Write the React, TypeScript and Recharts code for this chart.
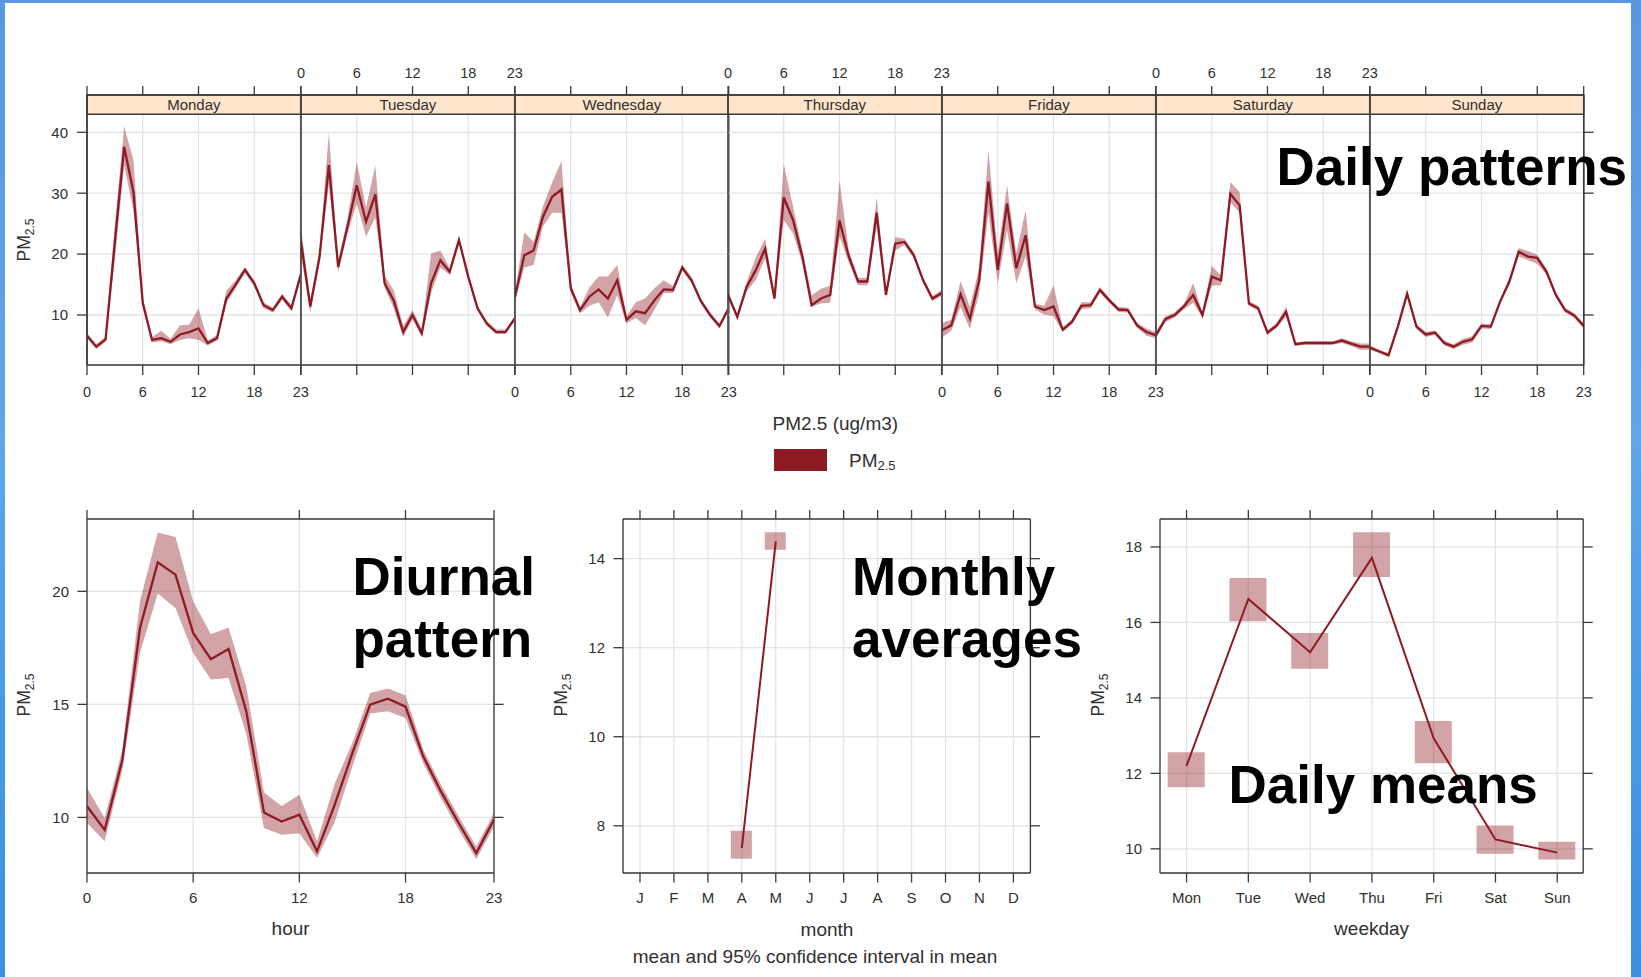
import React from 'react';
import {
  ComposedChart,
  Line,
  Area,
  Bar,
  XAxis,
  YAxis,
  CartesianGrid,
  ReferenceArea,
  ReferenceLine,
} from 'recharts';

const FONT = '"Liberation Sans", Arial, Helvetica, sans-serif';
const SERIES = '#8E1B24';
const BAND_OPACITY = 0.4;
const AXIS = '#3a3a3a';
const GRID = '#e3e3e3';
const TEXT = '#303030';
const STRIP = '#FFE5CC';

// ---- categories & ticks ----
const hours = [0, 1, 2, 3, 4, 5, 6, 7, 8, 9, 10, 11, 12, 13, 14, 15, 16, 17, 18, 19, 20, 21, 22, 23];
const hourTicks = [0, 6, 12, 18, 23];
const dayNames = ['Monday', 'Tuesday', 'Wednesday', 'Thursday', 'Friday', 'Saturday', 'Sunday'];
const dayAbbrev = ['Mon', 'Tue', 'Wed', 'Thu', 'Fri', 'Sat', 'Sun'];
const weekdayIndex = [1, 2, 3, 4, 5, 6, 7];
const monthLetters = ['J', 'F', 'M', 'A', 'M', 'J', 'J', 'A', 'S', 'O', 'N', 'D'];
const monthTicks = [1, 2, 3, 4, 5, 6, 7, 8, 9, 10, 11, 12];

const dailyTicks = [10, 20, 30, 40];
const diurnalTicks = [10, 15, 20];
const monthlyTicks = [8, 10, 12, 14];
const weekdayTicks = [10, 12, 14, 16, 18];

// ---- hourly means by day of week, with 95% CI ----
const mondayMean = [6.6, 4.8, 6.0, 22.0, 37.6, 30.2, 12.0, 5.9, 6.2, 5.6, 6.8, 7.2, 7.8, 5.4, 6.2, 12.7, 15.0, 17.4, 15.2, 11.6, 10.8, 13.0, 11.1, 16.6];
const mondayLow = [6.2, 4.4, 5.6, 19.0, 34.6, 27.1, 11.3, 5.5, 5.7, 5.2, 5.9, 6.2, 5.9, 5.0, 5.8, 12.0, 14.4, 16.9, 14.7, 11.1, 10.4, 12.5, 10.6, 15.8];
const mondayHigh = [7.0, 5.2, 6.4, 25.0, 41.0, 35.4, 12.8, 6.4, 7.4, 6.1, 8.3, 8.4, 11.1, 5.8, 6.7, 14.0, 15.7, 17.9, 15.7, 12.1, 11.2, 13.5, 11.6, 17.4];

const tuesdayMean = [22.0, 11.4, 19.6, 34.6, 17.9, 24.5, 31.3, 25.3, 29.8, 15.2, 12.3, 7.2, 10.0, 7.0, 15.2, 19.0, 17.1, 22.3, 16.3, 11.1, 8.6, 7.2, 7.2, 9.4];
const tuesdayLow = [19.8, 10.5, 18.6, 31.5, 17.0, 23.3, 28.3, 22.9, 26.0, 14.5, 11.0, 6.4, 9.3, 6.4, 13.6, 17.8, 16.6, 21.7, 15.8, 10.7, 8.2, 6.9, 6.9, 9.0];
const tuesdayHigh = [24.5, 12.3, 20.6, 40.0, 18.8, 25.8, 35.1, 27.7, 34.5, 16.5, 14.0, 8.2, 10.8, 7.6, 20.1, 20.6, 17.7, 22.9, 16.8, 11.5, 9.0, 7.6, 7.6, 9.8];

const wednesdayMean = [13.0, 19.8, 20.6, 26.1, 29.4, 30.6, 14.4, 10.8, 13.0, 14.2, 12.7, 15.7, 9.2, 10.6, 10.3, 12.4, 14.2, 14.1, 17.8, 15.7, 12.3, 10.0, 8.2, 11.1];
const wednesdayLow = [12.3, 17.8, 18.2, 24.5, 26.8, 26.8, 13.7, 10.3, 11.5, 12.1, 9.6, 13.3, 8.6, 9.5, 8.3, 10.8, 13.6, 13.6, 17.3, 15.2, 11.9, 9.6, 7.8, 10.6];
const wednesdayHigh = [13.8, 23.6, 22.0, 27.8, 31.8, 35.3, 15.0, 11.3, 14.5, 16.3, 16.3, 18.2, 9.8, 12.1, 12.7, 14.4, 15.7, 14.7, 18.3, 16.2, 12.7, 10.4, 8.6, 11.6];

const thursdayMean = [13.3, 9.7, 14.6, 17.4, 20.9, 12.7, 29.3, 25.6, 19.6, 11.6, 12.7, 13.3, 25.5, 19.6, 15.5, 15.5, 26.8, 13.3, 21.7, 22.0, 19.8, 15.7, 12.7, 13.6];
const thursdayLow = [12.8, 9.3, 13.8, 15.8, 19.3, 12.2, 25.6, 23.4, 18.5, 11.4, 11.9, 12.0, 22.9, 18.6, 14.9, 14.9, 24.4, 12.8, 20.6, 21.5, 19.3, 15.2, 12.3, 13.1];
const thursdayHigh = [13.8, 10.1, 15.4, 19.5, 22.5, 13.2, 34.8, 27.8, 20.8, 13.2, 14.3, 14.8, 32.1, 20.6, 16.1, 16.1, 29.3, 13.8, 22.8, 22.5, 20.3, 16.2, 13.1, 14.1];

const fridayMean = [7.5, 8.3, 13.4, 9.4, 15.7, 31.9, 17.4, 28.3, 17.7, 23.1, 11.4, 10.8, 11.4, 7.6, 8.9, 11.5, 11.6, 14.1, 12.4, 10.9, 10.8, 8.3, 7.2, 6.7];
const fridayLow = [6.3, 7.4, 11.3, 7.7, 13.5, 26.7, 15.2, 23.9, 15.2, 19.6, 10.9, 10.1, 9.8, 7.2, 8.5, 11.0, 11.1, 13.6, 12.0, 10.5, 10.4, 7.9, 6.6, 6.2];
const fridayHigh = [8.7, 9.2, 15.6, 11.3, 17.8, 37.1, 20.0, 31.3, 20.1, 27.2, 11.9, 11.5, 14.9, 8.0, 9.3, 12.1, 12.1, 14.6, 12.8, 11.3, 11.2, 8.7, 7.8, 7.2];

const saturdayMean = [6.7, 9.3, 10.0, 11.4, 13.3, 10.0, 16.3, 15.7, 29.9, 28.0, 11.9, 11.1, 7.1, 8.3, 10.5, 5.2, 5.4, 5.4, 5.4, 5.4, 5.8, 5.3, 4.8, 4.8];
const saturdayLow = [6.2, 8.8, 9.6, 10.9, 12.0, 9.6, 14.8, 14.9, 28.5, 26.8, 11.5, 10.7, 6.7, 7.9, 9.7, 4.9, 5.1, 5.1, 5.1, 5.1, 5.4, 4.9, 4.3, 4.3];
const saturdayHigh = [7.2, 9.8, 10.4, 11.9, 15.2, 10.4, 18.1, 16.5, 31.8, 30.2, 12.3, 11.5, 7.5, 8.7, 11.4, 5.5, 5.7, 5.7, 5.7, 5.7, 6.2, 5.7, 5.3, 5.3];

const sundayMean = [4.65, 4.0, 3.4, 8.1, 13.5, 8.1, 6.8, 7.1, 5.4, 4.8, 5.6, 6.0, 8.2, 8.1, 12.2, 15.5, 20.4, 19.6, 19.4, 17.1, 13.3, 10.8, 9.9, 8.2];
const sundayLow = [4.3, 3.7, 3.1, 7.7, 13.0, 7.7, 6.4, 6.7, 5.0, 4.4, 5.1, 5.5, 7.8, 7.7, 11.8, 15.0, 19.6, 19.0, 18.4, 16.6, 12.9, 10.4, 9.5, 7.8];
const sundayHigh = [5.0, 4.3, 3.7, 8.5, 14.0, 8.5, 7.2, 7.5, 5.8, 5.2, 6.1, 6.5, 8.6, 8.5, 12.6, 16.0, 21.0, 20.5, 19.9, 17.6, 13.7, 11.2, 10.3, 8.6];

// ---- diurnal (all days) ----
const diurnalMean = [10.49, 9.45, 12.55, 18.4, 21.28, 20.74, 18.16, 17.0, 17.45, 14.69, 10.22, 9.82, 10.12, 8.5, 10.56, 12.85, 14.99, 15.25, 14.9, 12.7, 11.15, 9.75, 8.42, 9.9];
const diurnalLow = [9.75, 8.94, 12.1, 17.3, 19.9, 19.26, 17.27, 16.1, 16.17, 13.7, 9.53, 9.23, 9.3, 8.2, 9.8, 12.26, 14.6, 14.7, 14.4, 12.4, 10.85, 9.45, 8.15, 9.6];
const diurnalHigh = [11.3, 9.97, 13.0, 19.6, 22.6, 22.4, 19.56, 18.1, 18.4, 15.8, 11.1, 10.5, 11.0, 8.94, 11.5, 13.3, 15.5, 15.7, 15.4, 13.0, 11.45, 10.05, 8.7, 10.2];

// ---- monthly means ----
const monthIndex = [4, 5];
const monthMean = [7.5, 14.39];
const monthLow = [7.26, 14.2];
const monthHigh = [7.89, 14.59];

// ---- weekday means ----
const weekdayMean = [12.2, 16.62, 15.21, 17.71, 12.93, 10.25, 9.9];
const weekdayLow = [11.63, 16.03, 14.77, 17.2, 12.27, 9.87, 9.72];
const weekdayHigh = [12.56, 17.18, 15.72, 18.39, 13.39, 10.62, 10.19];

const dayMeans = [mondayMean, tuesdayMean, wednesdayMean, thursdayMean, fridayMean, saturdayMean, sundayMean];
const dayLows = [mondayLow, tuesdayLow, wednesdayLow, thursdayLow, fridayLow, saturdayLow, sundayLow];
const dayHighs = [mondayHigh, tuesdayHigh, wednesdayHigh, thursdayHigh, fridayHigh, saturdayHigh, sundayHigh];

// ---- layout ----
const PANEL_X0 = 87.3;
const PANEL_W = 213.714;
const PANEL_Y0 = 95;
const PANEL_H = 270;
const DAILY_DOMAIN: [number, number] = [1.79, 46.12];
const STRIP_LO = 42.96;

const BOT_Y0 = 519.3;
const BOT_H = 354;
const BOT_AXIS_H = 45;

const lineStyle = { stroke: AXIS, strokeWidth: 1.3 };
const tickStyle = (size: number) => ({ fill: TEXT, fontSize: size, fontFamily: FONT });
const hiddenTick = () => <g />;

function DayPanel({ idx }: { idx: number }) {
  const first = idx === 0;
  const last = idx === 6;
  const labelsTop = idx % 2 === 1;
  const rows = hours.map((h, i) => ({
    hour: h,
    mean: dayMeans[idx][i],
    band: [dayLows[idx][i], dayHighs[idx][i]],
  }));
  const plotLeft = PANEL_X0 + idx * PANEL_W;
  return (
    <div style={{ position: 'absolute', left: plotLeft - 60, top: PANEL_Y0 - 40 }}>
      <ComposedChart
        width={PANEL_W + 80}
        height={PANEL_H + 80}
        data={rows}
        margin={{ top: 0, bottom: 0, left: first ? 0 : 60, right: last ? 0 : 20 }}
      >
        <CartesianGrid xAxisId="b" yAxisId="l" stroke={GRID} strokeWidth={1.3} />
        <XAxis
          xAxisId="b"
          dataKey="hour"
          type="number"
          domain={[0, 23]}
          ticks={hourTicks}
          interval={0}
          allowDataOverflow
          height={40}
          tickSize={10}
          tickMargin={11.3}
          axisLine={lineStyle}
          tickLine={lineStyle}
          tick={labelsTop ? hiddenTick : tickStyle(14.5)}
        />
        <XAxis
          xAxisId="t"
          dataKey="hour"
          type="number"
          orientation="top"
          domain={[0, 23]}
          ticks={hourTicks}
          interval={0}
          allowDataOverflow
          height={40}
          tickSize={9}
          tickMargin={8.1}
          axisLine={lineStyle}
          tickLine={lineStyle}
          tick={labelsTop ? tickStyle(14.5) : hiddenTick}
        />
        <YAxis
          yAxisId="l"
          domain={DAILY_DOMAIN}
          ticks={dailyTicks}
          interval={0}
          allowDataOverflow
          hide={!first}
          width={60}
          tickSize={10}
          tickMargin={9}
          axisLine={lineStyle}
          tickLine={lineStyle}
          tick={tickStyle(15)}
        />
        {last && (
          <YAxis
            yAxisId="r"
            orientation="right"
            domain={DAILY_DOMAIN}
            ticks={dailyTicks}
            interval={0}
            allowDataOverflow
            width={20}
            tickSize={10}
            axisLine={lineStyle}
            tickLine={lineStyle}
            tick={hiddenTick}
          />
        )}
        <Area
          xAxisId="b"
          yAxisId="l"
          type="linear"
          dataKey="band"
          stroke="none"
          fill={SERIES}
          fillOpacity={BAND_OPACITY}
          isAnimationActive={false}
          activeDot={false}
        />
        <Line
          xAxisId="b"
          yAxisId="l"
          type="linear"
          dataKey="mean"
          stroke={SERIES}
          strokeWidth={2.3}
          dot={false}
          activeDot={false}
          isAnimationActive={false}
        />
        <ReferenceArea
          xAxisId="b"
          yAxisId="l"
          x1={0}
          x2={23}
          y1={STRIP_LO}
          y2={DAILY_DOMAIN[1]}
          fill={STRIP}
          fillOpacity={1}
          stroke={AXIS}
          strokeWidth={1.3}
          label={{ value: dayNames[idx], position: 'center', fill: TEXT, fontSize: 15, fontFamily: FONT }}
        />
        <ReferenceLine xAxisId="b" yAxisId="l" x={0} stroke={AXIS} strokeWidth={1.5} />
        <ReferenceLine xAxisId="b" yAxisId="l" x={23} stroke={AXIS} strokeWidth={1.5} />
      </ComposedChart>
    </div>
  );
}

type FrameProps = {
  left: number;
  width: number;
  data: any[];
  xKey: string;
  xDomain: [number, number];
  xTicks: number[];
  xFormat?: (v: number) => string;
  yDomain: [number, number];
  yTicks: number[];
  children: React.ReactNode;
};

function Frame({ left, width, data, xKey, xDomain, xTicks, xFormat, yDomain, yTicks, children }: FrameProps) {
  return (
    <div style={{ position: 'absolute', left: left - 60, top: BOT_Y0 - 30 }}>
      <ComposedChart
        width={width + 80}
        height={BOT_H + 30 + BOT_AXIS_H}
        data={data}
        margin={{ top: 0, right: 0, bottom: 0, left: 0 }}
      >
        <CartesianGrid xAxisId="b" yAxisId="l" stroke={GRID} strokeWidth={1.3} />
        <XAxis
          xAxisId="b"
          dataKey={xKey}
          type="number"
          domain={xDomain}
          ticks={xTicks}
          interval={0}
          allowDataOverflow
          height={BOT_AXIS_H}
          tickSize={9.5}
          tickMargin={9.8}
          tickFormatter={xFormat}
          axisLine={lineStyle}
          tickLine={lineStyle}
          tick={tickStyle(15)}
        />
        <XAxis
          xAxisId="t"
          dataKey={xKey}
          type="number"
          orientation="top"
          domain={xDomain}
          ticks={xTicks}
          interval={0}
          allowDataOverflow
          height={30}
          tickSize={9}
          axisLine={lineStyle}
          tickLine={lineStyle}
          tick={hiddenTick}
        />
        <YAxis
          yAxisId="l"
          domain={yDomain}
          ticks={yTicks}
          interval={0}
          allowDataOverflow
          width={60}
          tickSize={9.5}
          tickMargin={8.5}
          axisLine={lineStyle}
          tickLine={lineStyle}
          tick={tickStyle(15)}
        />
        <YAxis
          yAxisId="r"
          orientation="right"
          domain={yDomain}
          ticks={yTicks}
          interval={0}
          allowDataOverflow
          width={20}
          tickSize={9.5}
          axisLine={lineStyle}
          tickLine={lineStyle}
          tick={hiddenTick}
        />
        {children}
      </ComposedChart>
    </div>
  );
}

function YTitle({ x, y }: { x: number; y: number }) {
  return (
    <text
      x={x}
      y={y}
      transform={`rotate(-90 ${x} ${y})`}
      textAnchor="middle"
      fontSize={17.5}
      fill={TEXT}
      fontFamily={FONT}
    >
      PM
      <tspan fontSize={12} dy={4}>2.5</tspan>
    </text>
  );
}

function Title({ x, y, lines }: { x: number; y: number; lines: string[] }) {
  return (
    <text x={x} y={y} fontSize={53} fontWeight="bold" fill="#000" fontFamily={FONT}>
      {lines.map((s, i) => (
        <tspan key={s} x={x} dy={i === 0 ? 0 : 62}>
          {s}
        </tspan>
      ))}
    </text>
  );
}

export default function App() {
  const diurnalRows = hours.map((h, i) => ({
    hour: h,
    mean: diurnalMean[i],
    band: [diurnalLow[i], diurnalHigh[i]],
  }));
  const monthRows = monthIndex.map((m, i) => ({ month: m, mean: monthMean[i], ci: [monthLow[i], monthHigh[i]] }));
  const weekdayRows = weekdayIndex.map((d, i) => ({ day: d, mean: weekdayMean[i], ci: [weekdayLow[i], weekdayHigh[i]] }));

  return (
    <div
      style={{
        position: 'absolute',
        left: 0,
        top: 0,
        width: 1641,
        height: 977,
        overflow: 'hidden',
        fontFamily: FONT,
        background: 'linear-gradient(180deg, #5b96e2 0%, #5fa6ea 45%, #4a9be6 70%, #3e8ee2 100%)',
      }}
    >
      <div style={{ position: 'absolute', left: 5, top: 3, width: 1626, height: 974, background: '#ffffff' }} />

      {dayNames.map((_, i) => (
        <DayPanel key={i} idx={i} />
      ))}

      <Frame
        left={87.1}
        width={407}
        data={diurnalRows}
        xKey="hour"
        xDomain={[0, 23]}
        xTicks={hourTicks}
        yDomain={[7.54, 23.2]}
        yTicks={diurnalTicks}
      >
        <Area
          xAxisId="b"
          yAxisId="l"
          type="linear"
          dataKey="band"
          stroke="none"
          fill={SERIES}
          fillOpacity={BAND_OPACITY}
          isAnimationActive={false}
          activeDot={false}
        />
        <Line
          xAxisId="b"
          yAxisId="l"
          type="linear"
          dataKey="mean"
          stroke={SERIES}
          strokeWidth={2.3}
          dot={false}
          activeDot={false}
          isAnimationActive={false}
        />
      </Frame>

      <Frame
        left={623.3}
        width={407.4}
        data={monthRows}
        xKey="month"
        xDomain={[0.5, 12.5]}
        xTicks={monthTicks}
        xFormat={(v: number) => monthLetters[v - 1]}
        yDomain={[6.94, 14.89]}
        yTicks={monthlyTicks}
      >
        <Bar
          xAxisId="b"
          yAxisId="l"
          dataKey="ci"
          barSize={21}
          fill={SERIES}
          fillOpacity={BAND_OPACITY}
          isAnimationActive={false}
        />
        <Line
          xAxisId="b"
          yAxisId="l"
          type="linear"
          dataKey="mean"
          stroke={SERIES}
          strokeWidth={2}
          dot={false}
          activeDot={false}
          isAnimationActive={false}
        />
      </Frame>

      <Frame
        left={1160}
        width={423.2}
        data={weekdayRows}
        xKey="day"
        xDomain={[0.57, 7.42]}
        xTicks={weekdayIndex}
        xFormat={(v: number) => dayAbbrev[v - 1]}
        yDomain={[9.36, 18.74]}
        yTicks={weekdayTicks}
      >
        <Bar
          xAxisId="b"
          yAxisId="l"
          dataKey="ci"
          barSize={37}
          fill={SERIES}
          fillOpacity={BAND_OPACITY}
          isAnimationActive={false}
        />
        <Line
          xAxisId="b"
          yAxisId="l"
          type="linear"
          dataKey="mean"
          stroke={SERIES}
          strokeWidth={2}
          dot={false}
          activeDot={false}
          isAnimationActive={false}
        />
      </Frame>

      <svg
        width={1641}
        height={977}
        style={{ position: 'absolute', left: 0, top: 0, pointerEvents: 'none' }}
      >
        <YTitle x={30} y={240} />
        <YTitle x={30} y={695} />
        <YTitle x={567} y={695} />
        <YTitle x={1104} y={695} />

        <text x={835.3} y={429.5} textAnchor="middle" fontSize={19} fill={TEXT} fontFamily={FONT}>
          PM2.5 (ug/m3)
        </text>
        <rect x={774} y={449} width={53} height={22} fill={SERIES} />
        <text x={849} y={466.5} fontSize={19} fill={TEXT} fontFamily={FONT}>
          PM
          <tspan fontSize={13} dy={3}>2.5</tspan>
        </text>

        <text x={290.6} y={935} textAnchor="middle" fontSize={19} fill={TEXT} fontFamily={FONT}>hour</text>
        <text x={827} y={935.5} textAnchor="middle" fontSize={19} fill={TEXT} fontFamily={FONT}>month</text>
        <text x={815} y={962.5} textAnchor="middle" fontSize={19} fill={TEXT} fontFamily={FONT}>
          mean and 95% confidence interval in mean
        </text>
        <text x={1371.6} y={935} textAnchor="middle" fontSize={19} fill={TEXT} fontFamily={FONT}>weekday</text>

        <Title x={1276.5} y={185} lines={['Daily patterns']} />
        <Title x={352.5} y={595} lines={['Diurnal', 'pattern']} />
        <Title x={852} y={595} lines={['Monthly', 'averages']} />
        <Title x={1228.5} y={803} lines={['Daily means']} />
      </svg>
    </div>
  );
}
